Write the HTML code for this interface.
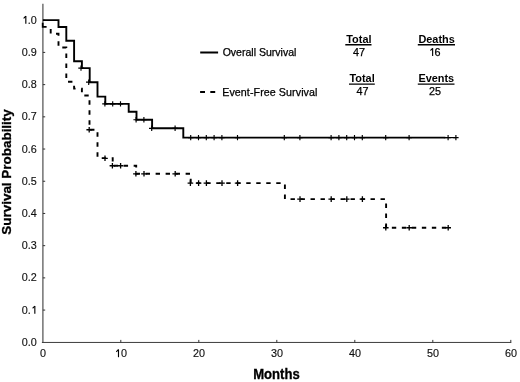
<!DOCTYPE html>
<html><head><meta charset="utf-8"><title>Survival</title>
<style>
html,body{margin:0;padding:0;background:#fff;}
body{width:520px;height:382px;overflow:hidden;font-family:"Liberation Sans",sans-serif;}
svg{display:block;filter:grayscale(1);}
</style></head><body>
<svg width="520" height="382" viewBox="0 0 520 382">
<rect width="520" height="382" fill="#fff"/>
<g fill="none">
<path d="M42.9 3.7 V343" stroke="#555" stroke-width="1.25"/>
<path d="M41.9 342.45 H511.3" stroke="#3c3c3c" stroke-width="1"/>
<path d="M120.8 342.4 v-2.5 M198.8 342.4 v-2.5 M276.8 342.4 v-2.5 M354.8 342.4 v-2.5 M432.8 342.4 v-2.5 M510.8 342.4 v-2.5 M42.9 310.09 h2.3 M42.9 277.88 h2.3 M42.9 245.67 h2.3 M42.9 213.46 h2.3 M42.9 181.25 h2.3 M42.9 149.04 h2.3 M42.9 116.83 h2.3 M42.9 84.62 h2.3 M42.9 52.41 h2.3 M42.9 20.2 h2.3" stroke="#333" stroke-width="1"/>
</g>
<g font-family="'Liberation Sans', sans-serif" font-size="10.8" fill="#111" stroke="#111" stroke-width="0.15">
<text x="36.8" y="345.85" text-anchor="end">0.0</text>
<text x="30.8" y="313.64" text-anchor="end">0.</text>
<text x="36.8" y="281.43" text-anchor="end">0.2</text>
<text x="36.8" y="249.22" text-anchor="end">0.3</text>
<text x="36.8" y="217.01" text-anchor="end">0.4</text>
<text x="36.8" y="184.8" text-anchor="end">0.5</text>
<text x="36.8" y="152.59" text-anchor="end">0.6</text>
<text x="36.8" y="120.38" text-anchor="end">0.7</text>
<text x="36.8" y="88.17" text-anchor="end">0.8</text>
<text x="36.8" y="55.96" text-anchor="end">0.9</text>
<text x="36.8" y="23.75" text-anchor="end">.0</text>
<text x="43.1" y="357.2" text-anchor="middle">0</text>
<text x="121.1" y="357.2">0</text>
<text x="199.1" y="357.2" text-anchor="middle">20</text>
<text x="277.1" y="357.2" text-anchor="middle">30</text>
<text x="355.1" y="357.2" text-anchor="middle">40</text>
<text x="433.1" y="357.2" text-anchor="middle">50</text>
<text x="511.1" y="357.2" text-anchor="middle">60</text>
</g>
<g font-family="'Liberation Sans', sans-serif" font-weight="bold" fill="#000" stroke="#000" stroke-width="0.3">
<text transform="translate(276.4 378.5) scale(1 1.05)" font-size="13.1" text-anchor="middle">Months</text>
<text transform="translate(11.3 171.95) rotate(-90)" font-size="13.45" text-anchor="middle">Survival Probability</text>
</g>
<path d="M42.9 20 H58.5 V26.85 H66.3 V40.56 H74.1 V61.12 H81.9 V67.97 H89.7 V82.03 H97.5 V96.48 H105.3 V103.7 H128.7 V111.65 H136.5 V119.6 H152.1 V128.15 H183.3 V137.46 H445.38" fill="none" stroke="#000" stroke-width="1.9" stroke-linejoin="miter" transform="translate(0 0.15)"/>
<path d="M443.82 137.61 H456.3" fill="none" stroke="#000" stroke-width="1.2"/>
<path d="M78.3 68.12 h5.4 M81 65.42 v5.4 M86 82.18 h5.4 M88.7 79.48 v5.4 M102.2 103.85 h5.4 M104.9 101.15 v5.4 M110 103.85 h5.4 M112.7 101.15 v5.4 M117.8 103.85 h5.4 M120.5 101.15 v5.4 M133.4 119.75 h5.4 M136.1 117.05 v5.4 M141.2 119.75 h5.4 M143.9 117.05 v5.4 M149 128.3 h5.4 M151.7 125.6 v5.4 M172.4 128.3 h5.4 M175.1 125.6 v5.4 M188 137.61 h5.4 M190.7 134.91 v5.4 M195.8 137.61 h5.4 M198.5 134.91 v5.4 M203.6 137.61 h5.4 M206.3 134.91 v5.4 M211.4 137.61 h5.4 M214.1 134.91 v5.4 M219.2 137.61 h5.4 M221.9 134.91 v5.4 M234.8 137.61 h5.4 M237.5 134.91 v5.4 M281.6 137.61 h5.4 M284.3 134.91 v5.4 M297.2 137.61 h5.4 M299.9 134.91 v5.4 M328.4 137.61 h5.4 M331.1 134.91 v5.4 M336.2 137.61 h5.4 M338.9 134.91 v5.4 M344 137.61 h5.4 M346.7 134.91 v5.4 M351.8 137.61 h5.4 M354.5 134.91 v5.4 M359.6 137.61 h5.4 M362.3 134.91 v5.4 M383 137.61 h5.4 M385.7 134.91 v5.4 M406.4 137.61 h5.4 M409.1 134.91 v5.4 M445.4 137.61 h5.4 M448.1 134.91 v5.4 M453.2 137.61 h5.4 M455.9 134.91 v5.4" fill="none" stroke="#000" stroke-width="1.15"/>
<path d="M42.7 22.8 V26.85 H46.6" fill="none" stroke="#000" stroke-width="1.8"/>
<path d="M50.7 26.85 L50.7 33.71 L58.5 33.71 L58.5 47.41 L66.3 47.41 L66.3 81.68 L74.1 81.68 L74.1 88.53 L81.9 88.53 L81.9 95.39 L89.5 95.39 L89.5 129.65 L97.5 129.65 L97.5 157.98 L112.7 157.98 L112.7 165.34" fill="none" stroke="#000" stroke-width="1.9" stroke-dasharray="4.4 5.6" transform="translate(0 0.1)" stroke-dashoffset="7.85"/>
<path d="M112.7 165.34 L136.2 165.34 L136.2 173.38 L190.7 173.38 L190.7 182.75 L284.9 182.75 L284.9 198.69" fill="none" stroke="#000" stroke-width="1.9" stroke-dasharray="4.4 5.6" transform="translate(0 0.4)" stroke-dashoffset="9.04"/>
<path d="M284.9 198.69 L386.1 198.69 L386.1 227.37 L448.5 227.37" fill="none" stroke="#000" stroke-width="1.9" stroke-dasharray="4.4 5.6" transform="translate(0 0.4)" stroke-dashoffset="4.38"/>
<path d="M86.4 129.75 h5.6 M89.2 126.95 v5.6 M102.2 158.28 h5.6 M105 155.48 v5.6 M109.6 165.74 h5.6 M112.4 162.94 v5.6 M117.8 165.74 h5.6 M120.6 162.94 v5.6 M133.1 173.78 h5.6 M135.9 170.98 v5.6 M141.2 173.78 h5.6 M144 170.98 v5.6 M172.4 173.78 h5.6 M175.2 170.98 v5.6 M187.6 183.15 h5.6 M190.4 180.35 v5.6 M195.8 183.15 h5.6 M198.6 180.35 v5.6 M203.6 183.15 h5.6 M206.4 180.35 v5.6 M219.2 183.15 h5.6 M222 180.35 v5.6 M234.8 183.15 h5.6 M237.6 180.35 v5.6 M297.2 199.09 h5.6 M300 196.29 v5.6 M328.4 199.09 h5.6 M331.2 196.29 v5.6 M344 199.09 h5.6 M346.8 196.29 v5.6 M359.6 199.09 h5.6 M362.4 196.29 v5.6 M383 227.77 h5.6 M385.8 224.97 v5.6 M406.4 227.77 h5.6 M409.2 224.97 v5.6 M445.4 227.77 h5.6 M448.2 224.97 v5.6" fill="none" stroke="#000" stroke-width="1.3"/>
<path d="M200.2 52.5 H218.1" stroke="#000" stroke-width="2"/>
<path d="M200.1 92 H205 M210.3 92 H215.2" stroke="#000" stroke-width="2"/>
<g font-family="'Liberation Sans', sans-serif" fill="#000">
<g stroke="#000" stroke-width="0.25">
<text x="222.7" y="56" font-size="10.52">Overall Survival</text>
<text x="222.2" y="95.6" font-size="10.7" textLength="95.2">Event-Free Survival</text>
</g>
<g font-weight="bold" font-size="10.9" text-anchor="middle">
<text x="358.9" y="42.8">Total</text>
<text x="436.6" y="42.8">Deaths</text>
<text x="362.1" y="81.8">Total</text>
<text x="436.3" y="81.8">Events</text>
</g>
<path d="M345.3 44.8 H371.5 M417.8 44.8 H455 M349 84.1 H374.8 M417.8 84.1 H454.5" stroke="#000" stroke-width="1.4" fill="none"/>
<g font-size="10.8" text-anchor="middle" stroke="#000" stroke-width="0.25">
<text x="358.9" y="55.9">47</text>
<text x="434.6" y="55.9" text-anchor="start">6</text>
<text x="362.4" y="95">47</text>
<text x="434.9" y="95">25</text>
</g></g>
<g fill="#000"><path d="M34.27 313.64 H35.4 V305.91 H34.27 Z"/><path d="M32.6 308.23 Q34.05 307.31 34.76 306.02" fill="none" stroke="#000" stroke-width="1.08"/><path d="M25.26 23.75 H26.4 V16.02 H25.26 Z"/><path d="M23.59 18.34 Q25.05 17.42 25.75 16.13" fill="none" stroke="#000" stroke-width="1.08"/><path d="M117.92 357.2 H119.05 V349.47 H117.92 Z"/><path d="M116.25 351.79 Q117.7 350.87 118.41 349.58" fill="none" stroke="#000" stroke-width="1.08"/><path d="M432.07 55.9 H433.2 V48.17 H432.07 Z"/><path d="M430.4 50.49 Q431.85 49.57 432.56 48.28" fill="none" stroke="#000" stroke-width="1.08"/></g>
</svg>
</body></html>
